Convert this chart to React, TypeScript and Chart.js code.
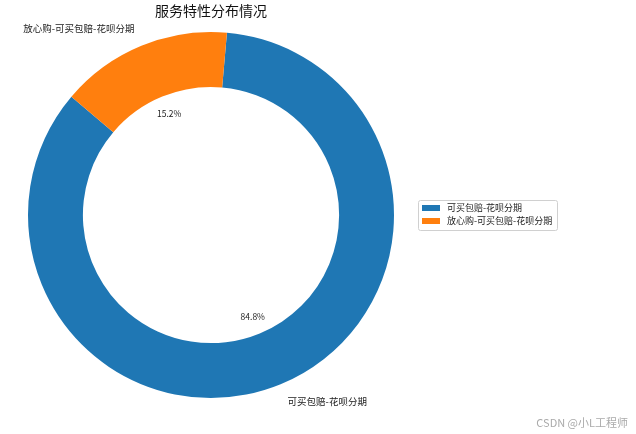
import { useEffect, useRef } from "react";
import { Chart, registerables } from "chart.js";

Chart.register(...registerables);

const labels = ["可买包赔-花呗分期", "放心购-可买包赔-花呗分期"];
const shares = [84.8, 15.2];
const colors = ["#1f77b4", "#ff7f0e"];
const title = "服务特性分布情况";

const FONT = "'Noto Sans CJK SC', 'DejaVu Sans', sans-serif";

// labels outside and percentages inside, like matplotlib's pie
const pieText = {
  id: "pieText",
  afterDraw(chart: any) {
    const ctx = chart.ctx;
    const meta = chart.getDatasetMeta(0);
    ctx.save();
    ctx.fillStyle = "#222";
    meta.data.forEach((arc: any, i: number) => {
      const { x, y, outerRadius, startAngle, endAngle } = arc.getProps(
        ["x", "y", "outerRadius", "startAngle", "endAngle"],
        true
      );
      const mid = (startAngle + endAngle) / 2;
      const cx = Math.cos(mid);
      const cy = Math.sin(mid);
      ctx.font = `9.5px ${FONT}`;
      ctx.textBaseline = "middle";
      ctx.textAlign = cx >= 0 ? "left" : "right";
      ctx.fillText(labels[i], x + cx * outerRadius * 1.1, y + cy * outerRadius * 1.1);
      ctx.textAlign = "center";
      ctx.font = `8.5px ${FONT}`;
      ctx.fillText(
        shares[i].toFixed(1) + "%",
        x + cx * outerRadius * 0.6,
        y + cy * outerRadius * 0.6
      );
    });

    // title
    ctx.font = `14px ${FONT}`;
    ctx.textAlign = "center";
    ctx.textBaseline = "middle";
    ctx.fillStyle = "#111";
    ctx.fillText(title, 211, 11);

    // legend
    const lx = 418, ly = 200, lw = 139, lh = 30;
    ctx.fillStyle = "#fff";
    ctx.strokeStyle = "#d0d0d0";
    ctx.lineWidth = 1;
    ctx.beginPath();
    ctx.roundRect(lx + 0.5, ly + 0.5, lw, lh, 2);
    ctx.fill();
    ctx.stroke();
    ctx.font = `9px ${FONT}`;
    ctx.textAlign = "left";
    labels.forEach((l, i) => {
      const ry = ly + 8 + i * 13;
      ctx.fillStyle = colors[i];
      ctx.fillRect(lx + 4, ry - 3, 18, 6);
      ctx.fillStyle = "#222";
      ctx.fillText(l, lx + 29, ry);
    });
    ctx.restore();
  },
};

const DonutChart: React.FC = () => {
  const chartRef = useRef<HTMLCanvasElement>(null);

  useEffect(() => {
    if (!chartRef.current) return;
    const ctx = chartRef.current.getContext("2d");
    if (!ctx) return;
    const chart = new Chart(ctx, {
      type: "doughnut",
      data: {
        labels,
        datasets: [
          {
            data: shares,
            backgroundColor: colors,
            borderWidth: 0,
          },
        ],
      },
      options: {
        animation: false,
        responsive: false,
        rotation: 5,
        cutout: "70%",
        layout: {
          padding: { left: 28, right: 242, top: 32, bottom: 36 },
        },
        plugins: {
          legend: { display: false },
          tooltip: { enabled: false },
        },
      },
      plugins: [pieText],
    });
    return () => {
      chart.destroy();
    };
  }, []);

  return <canvas ref={chartRef} width={636} height={434}></canvas>;
};

export default function App() {
  return (
    <div
      style={{
        position: "fixed",
        left: 0,
        top: 0,
        width: 636,
        height: 434,
        background: "#fff",
      }}
    >
      <DonutChart />
      <div
        style={{
          position: "absolute",
          right: 8,
          bottom: 4,
          color: "#aaa",
          fontSize: 11,
          fontFamily: FONT,
        }}
      >
        CSDN @小L工程师
      </div>
    </div>
  );
}
